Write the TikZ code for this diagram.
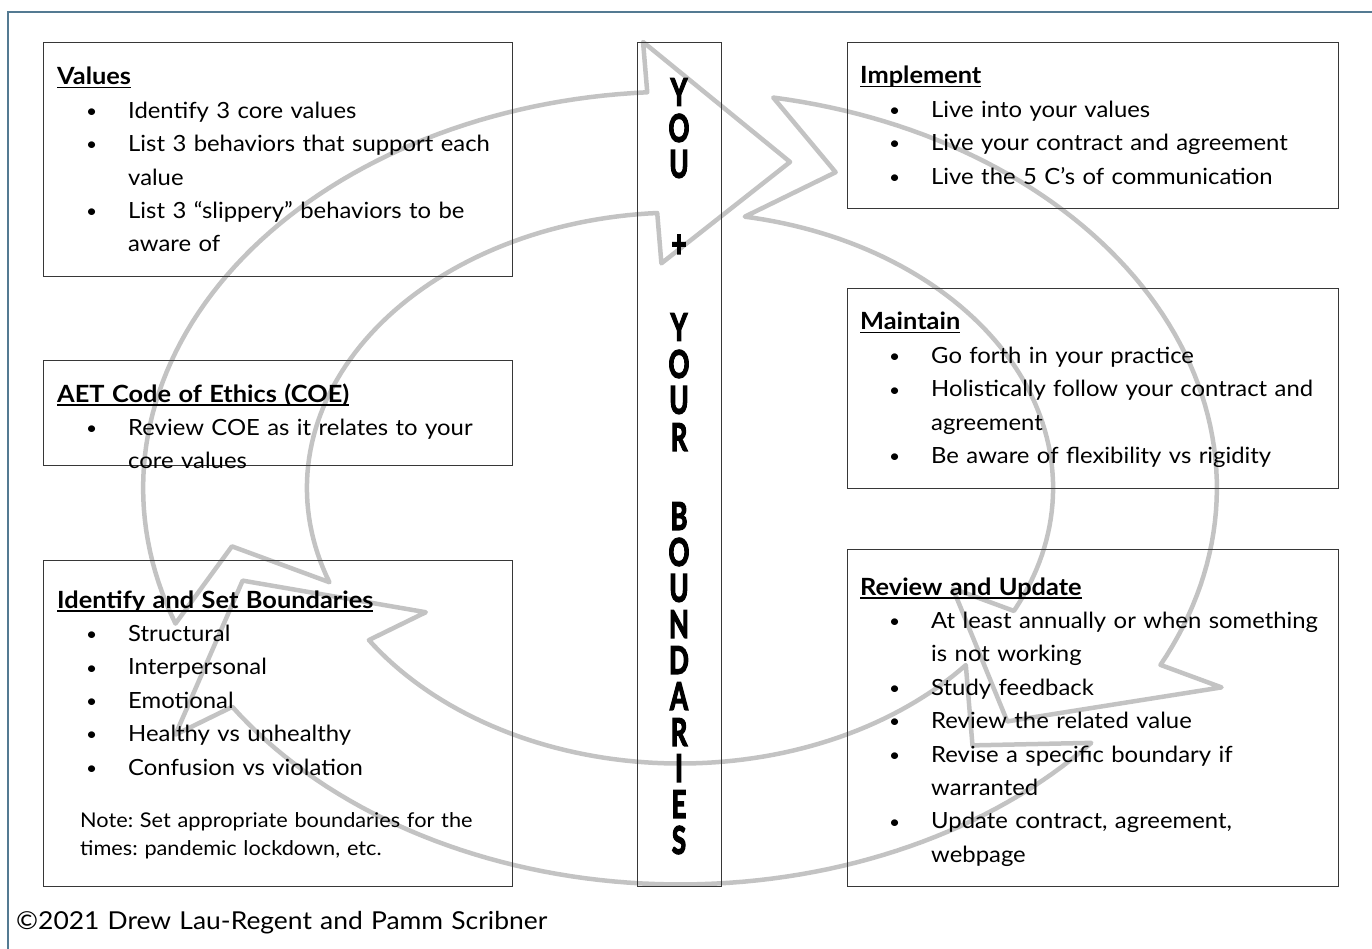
\documentclass[tikz,border=0pt]{standalone}
\usepackage{fontspec}
\setmainfont{Lato}[FakeStretch=1.07]
\newfontfamily\colfont{Lato}[BoldFeatures={FakeBold=4}]
\usetikzlibrary{positioning}

\definecolor{framecol}{RGB}{84,122,146}
\definecolor{ringgray}{RGB}{195,195,195}
\definecolor{boxline}{RGB}{55,55,55}

\frenchspacing
\newsavebox\hdbox
\newcommand{\hd}[1]{\sbox\hdbox{\fontsize{23.7}{33.4}\selectfont\bfseries #1}\usebox\hdbox\llap{\rule[-3.5pt]{\wd\hdbox}{1.6pt}}}
\newcommand{\bul}{\par\noindent\hangindent=71pt\hangafter=1\makebox[71pt][l]{\hspace{29pt}\raisebox{0.8pt}{\scalebox{0.8}{\textbullet}}}}

\tikzset{
  box/.style={draw=boxline, line width=1.4pt, anchor=north west, inner sep=0pt},
  txt/.style={anchor=base west, inner sep=0pt, align=left, text width=560pt,
    font=\fontsize{22.3}{33.4}\selectfont},
  note/.style={anchor=base west, inner sep=0pt, align=left, text width=460pt,
    font=\fontsize{20.3}{28}\selectfont},
  ltr/.style={inner sep=0pt, font=\fontsize{38}{38}\colfont\bfseries, xscale=0.68, transform shape},
  ring/.style={draw=ringgray, line width=4.5pt, line join=round},
}

\begin{document}
\begin{tikzpicture}[x=1pt,y=-1pt]
\useasboundingbox (0,0) rectangle (1372,949);

% circular arrows behind everything
\begin{scope}[shift={(680,488)}, x=455pt, y=336pt]
\foreach \tip in {76,-44,-164}{
  \pgfmathsetmacro{\tl}{\tip+124}
  \pgfmathsetmacro{\nt}{\tip+114}
  \pgfmathsetmacro{\wg}{\tip+17.5}
  \draw[ring] plot[domain=\tl:\wg, samples=70] ({1.18*cos(\x)},{1.18*sin(\x)})
    -- ({1.33*cos(\wg)},{1.33*sin(\wg)}) -- (\tip:1) -- ({0.67*cos(\wg)},{0.67*sin(\wg)})
    -- plot[domain=\wg:\tl, samples=70] ({0.82*cos(\x)},{0.82*sin(\x)})
    -- (\nt:1) -- cycle;
}
\end{scope}

% frame
\draw[framecol, line width=1.5pt] (8,949) -- (8,12) -- (1372,12);

% left column
\node[box, minimum width=469pt, minimum height=234pt] (values) at (43,42) {};
\node[txt] (valuestxt) at (57,85) {\hd{Values}
  \bul Identify 3 core values
  \bul List 3 behaviors that support each\newline value
  \bul List 3 “slippery” behaviors to be\newline aware of\par};

\node[box, minimum width=469pt, minimum height=105pt] (coe) at (43,360) {};
\node[txt] (coetxt) at (57,402) {\hd{AET Code of Ethics (COE)}
  \bul Review COE as it relates to your\newline core values\par};

\node[box, minimum width=469pt, minimum height=326pt] (setb) at (43,560) {};
\node[txt] (setbtxt) at (57,608) {\hd{Identify and Set Boundaries}
  \bul Structural
  \bul Interpersonal
  \bul Emotional
  \bul Healthy vs unhealthy
  \bul Confusion vs violation\par};
\node[note] (setbnote) at (80,827) {Note: Set appropriate boundaries for the\\times: pandemic lockdown, etc.};

% middle column
\node[box, minimum width=84pt, minimum height=844pt] (col) at (637,42) {};
\foreach \l/\y [count=\i] in {Y/92,O/128,U/164,+/246,Y/327,O/364,U/400,R/437,
    B/516,O/552,U/588,N/624,D/660,A/696,R/732,I/768,E/804,S/840}
  \node[ltr] (ltr\i) at (679,\y) {\l};

% right column
\node[box, minimum width=491pt, minimum height=166pt] (impl) at (847,42) {};
\node[txt] (impltxt) at (860,84) {\hd{Implement}
  \bul Live into your values
  \bul Live your contract and agreement
  \bul Live the 5 C’s of communication\par};

\node[box, minimum width=491pt, minimum height=200pt] (maint) at (847,288) {};
\node[txt] (mainttxt) at (860,330) {\hd{Maintain}
  \bul Go forth in your practice
  \bul Holistically follow your contract and\newline agreement
  \bul Be aware of flexibility vs rigidity\par};

\node[box, minimum width=491pt, minimum height=337pt] (review) at (847,549) {};
\node[txt] (reviewtxt) at (860,595) {\hd{Review and Update}
  \bul At least annually or when something\newline is not working
  \bul Study feedback
  \bul Review the related value
  \bul Revise a specific boundary if\newline warranted
  \bul Update contract, agreement,\newline webpage\par};

% footer
\node[txt, font=\fontsize{24.7}{28}\selectfont] (copy) at (16,929) {©2021 Drew Lau-Regent and Pamm Scribner};
\end{tikzpicture}
\end{document}
